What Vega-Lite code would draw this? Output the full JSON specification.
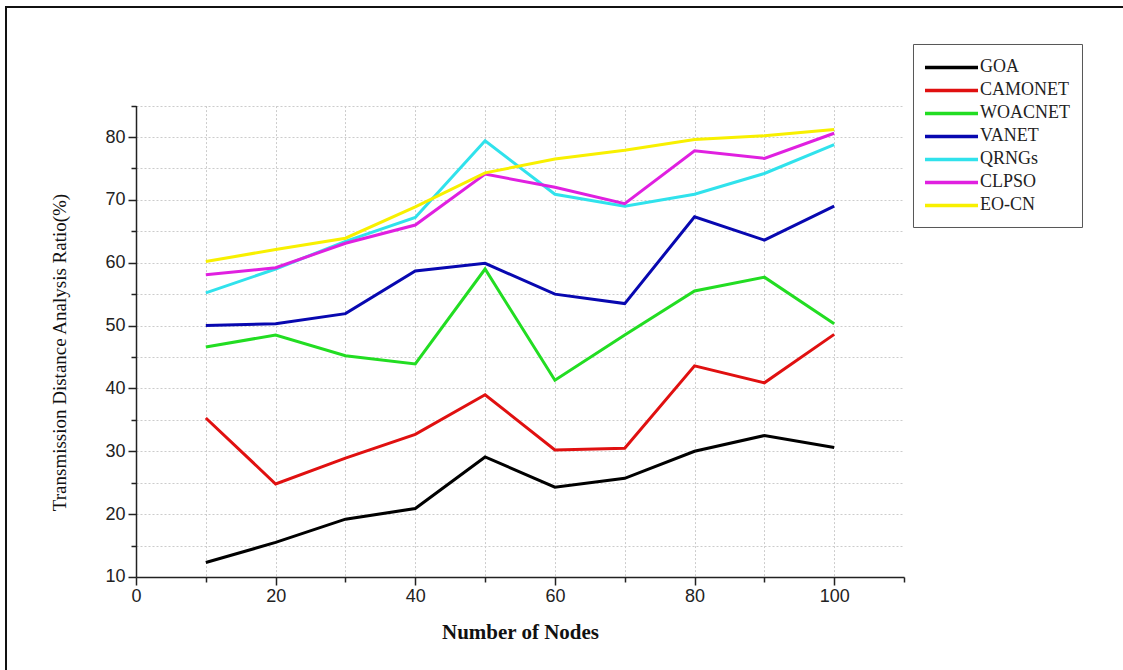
{
  "$schema": "https://vega.github.io/schema/vega-lite/v6.json",
  "width": 1125,
  "height": 668.6,
  "autosize": {"type": "none"},
  "padding": {"left": 6, "top": 7, "right": 0, "bottom": 0},
  "background": "white",
  "config": {"view": {"stroke": "#111111", "strokeWidth": 2}},
  "data": {
    "values": [
      {"nodes": 10, "method": "GOA", "ratio": 12.3},
      {"nodes": 20, "method": "GOA", "ratio": 15.5},
      {"nodes": 30, "method": "GOA", "ratio": 19.2},
      {"nodes": 40, "method": "GOA", "ratio": 20.9},
      {"nodes": 50, "method": "GOA", "ratio": 29.1},
      {"nodes": 60, "method": "GOA", "ratio": 24.3},
      {"nodes": 70, "method": "GOA", "ratio": 25.7},
      {"nodes": 80, "method": "GOA", "ratio": 30.0},
      {"nodes": 90, "method": "GOA", "ratio": 32.5},
      {"nodes": 100, "method": "GOA", "ratio": 30.6},
      {"nodes": 10, "method": "CAMONET", "ratio": 35.3},
      {"nodes": 20, "method": "CAMONET", "ratio": 24.8},
      {"nodes": 30, "method": "CAMONET", "ratio": 28.9},
      {"nodes": 40, "method": "CAMONET", "ratio": 32.7},
      {"nodes": 50, "method": "CAMONET", "ratio": 39.0},
      {"nodes": 60, "method": "CAMONET", "ratio": 30.2},
      {"nodes": 70, "method": "CAMONET", "ratio": 30.5},
      {"nodes": 80, "method": "CAMONET", "ratio": 43.6},
      {"nodes": 90, "method": "CAMONET", "ratio": 40.9},
      {"nodes": 100, "method": "CAMONET", "ratio": 48.6},
      {"nodes": 10, "method": "WOACNET", "ratio": 46.6},
      {"nodes": 20, "method": "WOACNET", "ratio": 48.5},
      {"nodes": 30, "method": "WOACNET", "ratio": 45.2},
      {"nodes": 40, "method": "WOACNET", "ratio": 43.9},
      {"nodes": 50, "method": "WOACNET", "ratio": 59.0},
      {"nodes": 60, "method": "WOACNET", "ratio": 41.3},
      {"nodes": 70, "method": "WOACNET", "ratio": 48.5},
      {"nodes": 80, "method": "WOACNET", "ratio": 55.5},
      {"nodes": 90, "method": "WOACNET", "ratio": 57.7},
      {"nodes": 100, "method": "WOACNET", "ratio": 50.3},
      {"nodes": 10, "method": "VANET", "ratio": 50.0},
      {"nodes": 20, "method": "VANET", "ratio": 50.3},
      {"nodes": 30, "method": "VANET", "ratio": 51.9},
      {"nodes": 40, "method": "VANET", "ratio": 58.7},
      {"nodes": 50, "method": "VANET", "ratio": 59.9},
      {"nodes": 60, "method": "VANET", "ratio": 55.0},
      {"nodes": 70, "method": "VANET", "ratio": 53.5},
      {"nodes": 80, "method": "VANET", "ratio": 67.3},
      {"nodes": 90, "method": "VANET", "ratio": 63.6},
      {"nodes": 100, "method": "VANET", "ratio": 69.0},
      {"nodes": 10, "method": "QRNGs", "ratio": 55.2},
      {"nodes": 20, "method": "QRNGs", "ratio": 59.0},
      {"nodes": 30, "method": "QRNGs", "ratio": 63.4},
      {"nodes": 40, "method": "QRNGs", "ratio": 67.2},
      {"nodes": 50, "method": "QRNGs", "ratio": 79.4},
      {"nodes": 60, "method": "QRNGs", "ratio": 70.9},
      {"nodes": 70, "method": "QRNGs", "ratio": 69.0},
      {"nodes": 80, "method": "QRNGs", "ratio": 70.9},
      {"nodes": 90, "method": "QRNGs", "ratio": 74.2},
      {"nodes": 100, "method": "QRNGs", "ratio": 78.8},
      {"nodes": 10, "method": "CLPSO", "ratio": 58.1},
      {"nodes": 20, "method": "CLPSO", "ratio": 59.2},
      {"nodes": 30, "method": "CLPSO", "ratio": 63.1},
      {"nodes": 40, "method": "CLPSO", "ratio": 66.0},
      {"nodes": 50, "method": "CLPSO", "ratio": 74.1},
      {"nodes": 60, "method": "CLPSO", "ratio": 72.0},
      {"nodes": 70, "method": "CLPSO", "ratio": 69.4},
      {"nodes": 80, "method": "CLPSO", "ratio": 77.8},
      {"nodes": 90, "method": "CLPSO", "ratio": 76.6},
      {"nodes": 100, "method": "CLPSO", "ratio": 80.6},
      {"nodes": 10, "method": "EO-CN", "ratio": 60.2},
      {"nodes": 20, "method": "EO-CN", "ratio": 62.1},
      {"nodes": 30, "method": "EO-CN", "ratio": 63.9},
      {"nodes": 40, "method": "EO-CN", "ratio": 68.9},
      {"nodes": 50, "method": "EO-CN", "ratio": 74.3},
      {"nodes": 60, "method": "EO-CN", "ratio": 76.5},
      {"nodes": 70, "method": "EO-CN", "ratio": 77.9},
      {"nodes": 80, "method": "EO-CN", "ratio": 79.6},
      {"nodes": 90, "method": "EO-CN", "ratio": 80.2},
      {"nodes": 100, "method": "EO-CN", "ratio": 81.2}
    ]
  },
  "mark": {"type": "line", "strokeWidth": 3, "clip": false},
  "encoding": {
    "x": {
      "field": "nodes",
      "type": "quantitative",
      "scale": {"domain": [0, 110], "range": [130, 898], "nice": false, "zero": false},
      "axis": {
        "title": "Number of Nodes",
        "titleFont": "Liberation Serif",
        "titleFontSize": 21,
        "titleFontWeight": "bold",
        "titleColor": "#111111",
        "titleY": 56,
        "titleBaseline": "middle",
        "values": [0, 10, 20, 30, 40, 50, 60, 70, 80, 90, 100, 110],
        "labelExpr": "datum.value % 20 === 0 && datum.value <= 100 ? datum.label : ''",
        "labelFlush": false,
        "labelOverlap": false,
        "offset": -98.6,
        "domainColor": "#222222",
        "domainWidth": 1.5,
        "tickColor": "#222222",
        "tickWidth": 1.5,
        "tickSize": {"condition": {"test": "datum.value % 20 === 0", "value": 8}, "value": 5},
        "labelFont": "Liberation Sans",
        "labelFontSize": 18,
        "labelColor": "#222222",
        "labelPadding": 3,
        "grid": true,
        "gridColor": "#cccccc",
        "gridDash": [2, 2],
        "gridWidth": 1,
        "gridOpacity": {"condition": {"test": "datum.value === 0 || datum.value === 110", "value": 0}, "value": 1}
      }
    },
    "y": {
      "field": "ratio",
      "type": "quantitative",
      "scale": {"domain": [10, 85], "range": [570, 98.6], "nice": false, "zero": false},
      "axis": {
        "title": "Transmission Distance Analysis Ratio(%)",
        "titleFont": "Liberation Serif",
        "titleFontSize": 19,
        "titleFontWeight": "normal",
        "titleColor": "#111111",
        "titleX": -77,
        "titleY": 345,
        "titleAngle": 270,
        "titleAlign": "center",
        "titleBaseline": "middle",
        "values": [10, 15, 20, 25, 30, 35, 40, 45, 50, 55, 60, 65, 70, 75, 80, 85],
        "labelExpr": "datum.value % 10 === 0 && datum.value <= 80 ? datum.label : ''",
        "labelOverlap": false,
        "labelFlush": false,
        "offset": -130,
        "domainColor": "#222222",
        "domainWidth": 1.5,
        "tickColor": "#222222",
        "tickWidth": 1.5,
        "tickSize": {"condition": {"test": "datum.value % 10 === 0", "value": 8}, "value": 5},
        "labelFont": "Liberation Sans",
        "labelFontSize": 18,
        "labelColor": "#222222",
        "labelPadding": 3,
        "grid": true,
        "gridColor": "#cccccc",
        "gridDash": [2, 2],
        "gridWidth": 1,
        "gridOpacity": {"condition": {"test": "datum.value === 10", "value": 0}, "value": 1}
      }
    },
    "color": {
      "field": "method",
      "type": "nominal",
      "scale": {
        "domain": ["GOA", "CAMONET", "WOACNET", "VANET", "QRNGs", "CLPSO", "EO-CN"],
        "range": ["#000000", "#e01010", "#22dd22", "#0808b0", "#30e2ec", "#e020e0", "#f8f000"]
      },
      "legend": {
        "orient": "none",
        "legendX": 907,
        "legendY": 37,
        "title": null,
        "symbolType": "M-1.21,0H4.37",
        "symbolSize": 361,
        "symbolStrokeWidth": 3.5,
        "labelFont": "Liberation Serif",
        "labelFontSize": 18,
        "labelColor": "#222222",
        "labelOffset": 32,
        "padding": 12,
        "rowPadding": 2,
        "strokeColor": "#555555",
        "fillColor": "white"
      }
    }
  }
}
